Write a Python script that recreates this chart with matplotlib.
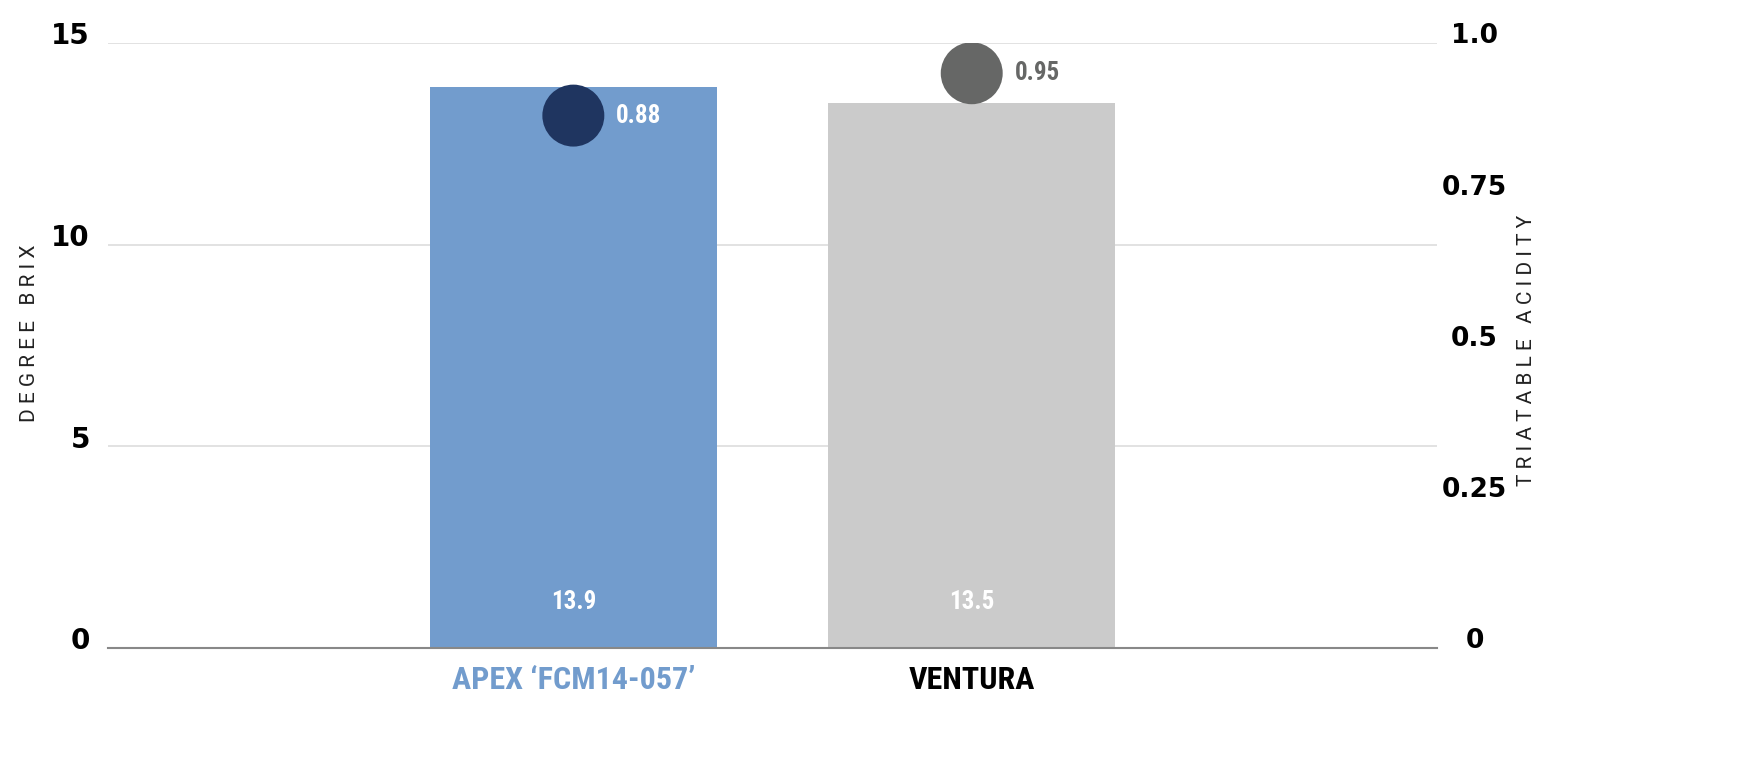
import matplotlib
matplotlib.use("Agg")
from matplotlib import pyplot as plt
from matplotlib import transforms as mtransforms

# data
categories = ["APEX \u2018FCM14-057\u2019", "VENTURA"]
brix = [13.9, 13.5]
acidity = [0.88, 0.95]
brix_ticks = [0, 5, 10, 15]
acid_ticks = [0, 0.25, 0.5, 0.75, 1.0]
acid_tick_labels = ["0", "0.25", "0.5", "0.75", "1.0"]

bar_colors = ["#729ccd", "#cbcbcb"]
dot_colors = ["#1f3560", "#666766"]
cat_colors = ["#729ccd", "#000000"]
acid_text_colors = ["white", "#666766"]

NARROW = ["Roboto Condensed", "Liberation Sans Narrow", "Roboto", "DejaVu Sans"]
HEAVY = ["DejaVu Sans"]
THIN = ["Roboto", "DejaVu Sans"]

fig = plt.figure(figsize=(17.48, 7.76), dpi=100)
ax = fig.add_axes([0.0618, 0.1649, 0.7603, 0.7797])
ax2 = ax.twinx()

x = list(range(len(categories)))
ax.bar(x, brix, width=0.72, color=bar_colors, zorder=2)
ax.set_xlim(-1.168, 2.168)
ax.set_ylim(0, 15)
ax.set_yticks(brix_ticks)
ax.set_yticklabels([str(t) for t in brix_ticks], fontsize=20, fontweight="bold",
                   family=HEAVY)
ax.tick_params(axis="y", length=0, pad=13)
ax.grid(axis="y", color="#dddddd", linewidth=1.2, zorder=0)
ax.set_axisbelow(True)
for s in ["top", "left", "right"]:
    ax.spines[s].set_visible(False)
ax.spines["bottom"].set_color("#888888")
ax.spines["bottom"].set_linewidth(1.5)
ax.spines["bottom"].set_zorder(3)

ax.set_xticks(x)
ax.set_xticklabels(categories, fontsize=23, fontweight="bold", family=NARROW)
for lbl, c in zip(ax.get_xticklabels(), cat_colors):
    lbl.set_color(c)
ax.tick_params(axis="x", length=0, pad=12)

for xi, v in zip(x, brix):
    ax.text(xi, 1.15, f"{v}", ha="center", va="center", color="white",
            fontsize=18, fontweight="bold", family=NARROW, zorder=4)

ax2.set_ylim(0, 1)
ax2.set_yticks(acid_ticks)
ax2.set_yticklabels(acid_tick_labels, fontsize=19, fontweight="bold", family=HEAVY)
ax2.tick_params(axis="y", length=0, pad=27)
for lbl in ax2.get_yticklabels():
    lbl.set_horizontalalignment("center")
for s in ax2.spines.values():
    s.set_visible(False)
ax2.scatter(x, acidity, s=1990, color=dot_colors, zorder=5, linewidths=0)
for xi, v, c in zip(x, acidity, acid_text_colors):
    ax2.text(xi + 0.108, v, f"{v:.2f}", ha="left", va="center", color=c,
             fontsize=18, fontweight="bold", family=NARROW, zorder=6)

# nudge tick labels up a little, like the reference
shift = mtransforms.ScaledTranslation(0, 7 / 72, fig.dpi_scale_trans)
for lbl in ax.get_yticklabels() + ax2.get_yticklabels():
    lbl.set_transform(lbl.get_transform() + shift)

fig.text(30 / 1748, 1 - 333 / 776, "D E G R E E   B R I X", rotation=90,
         ha="center", va="center", fontsize=15, color="#222222", family=THIN)
fig.text(1527 / 1748, 1 - 350 / 776, "T R I A T A B L E   A C I D I T Y",
         rotation=90, ha="center", va="center", fontsize=15, color="#222222",
         family=THIN)

fig.savefig("out.png", dpi=100)
